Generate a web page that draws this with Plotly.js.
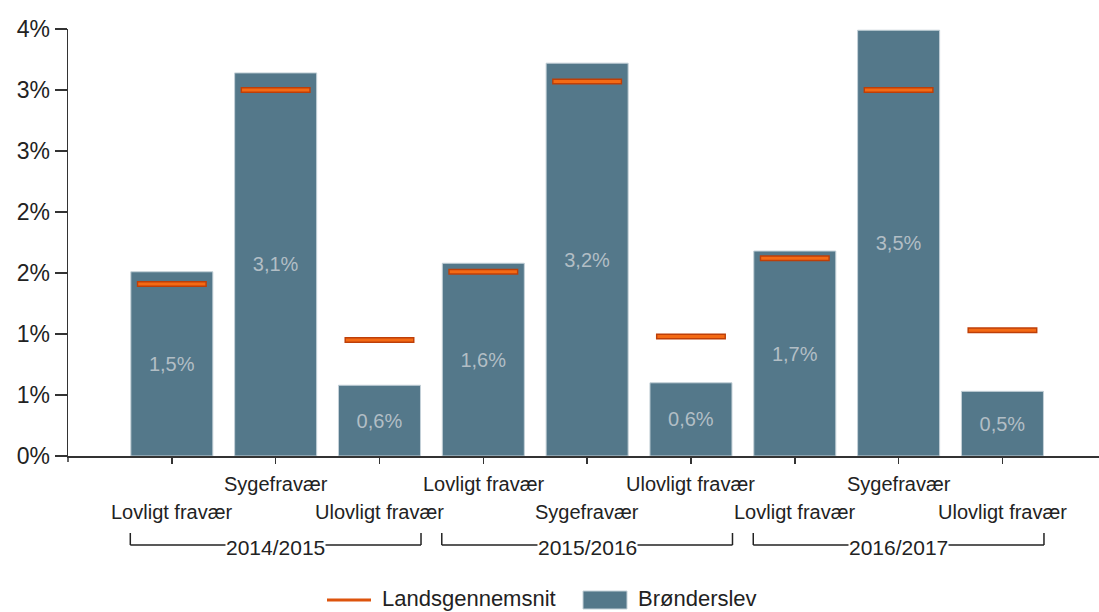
<!DOCTYPE html>
<html>
<head>
<meta charset="utf-8">
<script src="https://cdn.plot.ly/plotly-3.0.1.min.js"></script>
<style>html,body{margin:0;padding:0;background:#fff;}#chart{width:1099px;height:612px;}</style>
</head>
<body>
<div id="chart"></div>
<script>
// ---- data ----
const years = ["2014/2015", "2015/2016", "2016/2017"];
const categories = ["Lovligt fravær", "Sygefravær", "Ulovligt fravær"];
// Brønderslev values (%), in order year × category
const bronderslev = [1.51, 3.14, 0.58, 1.58, 3.22, 0.60, 1.68, 3.49, 0.53];
// Landsgennemsnit values (%)
const landsgennemsnit = [1.41, 3.00, 0.95, 1.51, 3.07, 0.98, 1.62, 3.00, 1.03];
const yTickVals = [0, 0.5, 1, 1.5, 2, 2.5, 3, 3.5];
const yTickText = ["0%", "1%", "1%", "2%", "2%", "3%", "3%", "4%"];
const seriesNames = ["Landsgennemsnit", "Brønderslev"];

// ---- build ----
const FONT = "Liberation Sans, Arial, sans-serif";
const xKeys = [], catLabels = [];
years.forEach(y => categories.forEach(c => { xKeys.push(y + " " + c); catLabels.push(c); }));
const barText = bronderslev.map(v => v.toFixed(1).replace(".", ",") + "%");

const barColor = "#54788A";
const orangeDark = "#BE3F08";
const orangeLight = "#F46A14";

const traces = [
  {
    type: "bar", x: xKeys, y: bronderslev, name: seriesNames[1],
    width: 0.79,
    marker: { color: barColor, line: { color: "#C4D1D8", width: 1 } },
    text: barText, textposition: "inside", insidetextanchor: "middle",
    textangle: 0, constraintext: "none",
    textfont: { family: FONT, size: 20, color: "#B2BEC5" },
    hoverinfo: "skip", showlegend: false
  },
  {
    type: "scatter", mode: "markers", x: xKeys, y: landsgennemsnit, name: seriesNames[0],
    marker: { symbol: "line-ew", size: 50, line: { color: orangeDark, width: 6 } },
    hoverinfo: "skip", showlegend: false
  },
  {
    type: "scatter", mode: "markers", x: xKeys, y: landsgennemsnit, name: seriesNames[0],
    marker: { symbol: "line-ew", size: 48, line: { color: orangeLight, width: 3 } },
    hoverinfo: "skip", showlegend: false
  }
];

const H = 427; // plot height px
const py = p => p / H; // px offset -> paper units
const annotations = [];
const shapes = [];

// category labels, staggered
xKeys.forEach((k, i) => {
  annotations.push({
    xref: "x", yref: "paper", x: k, y: (i % 2 === 1) ? -py(28) : -py(56),
    text: catLabels[i], showarrow: false, xanchor: "center", yanchor: "middle",
    font: { family: FONT, size: 20, color: "#222" }
  });
});

// group brackets and labels
years.forEach((y, g) => {
  const a = g * categories.length - 0.4;
  const b = g * categories.length + categories.length - 1 + 0.4;
  const yl = -py(89), yt = -py(77);
  shapes.push({ type: "line", xref: "x", yref: "paper", x0: a, x1: b, y0: yl, y1: yl, line: { color: "#222", width: 1.5 } });
  shapes.push({ type: "line", xref: "x", yref: "paper", x0: a, x1: a, y0: yt, y1: yl, line: { color: "#222", width: 1.5 } });
  shapes.push({ type: "line", xref: "x", yref: "paper", x0: b, x1: b, y0: yt, y1: yl, line: { color: "#222", width: 1.5 } });
  annotations.push({
    xref: "x", yref: "paper", x: g * categories.length + 1, y: -py(91),
    text: y, showarrow: false, xanchor: "center", yanchor: "middle",
    bgcolor: "#fff", borderpad: 0,
    font: { family: FONT, size: 21, color: "#222" }
  });
});

// tick below origin
shapes.push({ type: "line", xref: "paper", yref: "paper", x0: 0, x1: 0, y0: 0, y1: -py(6), line: { color: "#333", width: 1.5 } });

// manual legend
const W = 1031;
const px = p => (p - 68) / W;
const ly = -py(142);
shapes.push({ type: "line", xref: "paper", yref: "paper", x0: px(327), x1: px(371), y0: -py(144), y1: -py(144), line: { color: "#DD540D", width: 3 } });
annotations.push({ xref: "paper", yref: "paper", x: px(380), y: ly, text: seriesNames[0], showarrow: false, xanchor: "left", yanchor: "middle", font: { family: FONT, size: 22, color: "#222" } });
shapes.push({ type: "rect", xref: "paper", yref: "paper", x0: px(583), x1: px(627), y0: -py(135), y1: -py(153), fillcolor: barColor, line: { color: "#C4D1D8", width: 1 } });
annotations.push({ xref: "paper", yref: "paper", x: px(636), y: ly, text: seriesNames[1], showarrow: false, xanchor: "left", yanchor: "middle", font: { family: FONT, size: 22, color: "#222" } });

const layout = {
  width: 1099, height: 612,
  margin: { l: 68, r: 0, t: 29, b: 156, pad: 0 },
  paper_bgcolor: "#fff", plot_bgcolor: "#fff",
  showlegend: false,
  bargap: 0.21,
  xaxis: {
    type: "category", categoryorder: "array", categoryarray: xKeys,
    range: [-1, 8.93], showticklabels: false,
    ticks: "outside", ticklen: 6, tickwidth: 1.5, tickcolor: "#333",
    showline: true, linecolor: "#333", linewidth: 1.5,
    showgrid: false, zeroline: false, fixedrange: true
  },
  yaxis: {
    range: [0, 3.5], tickvals: yTickVals, ticktext: yTickText,
    ticks: "outside", ticklen: 12, tickwidth: 1.5, tickcolor: "#333",
    showline: true, linecolor: "#333", linewidth: 1.5,
    showgrid: false, zeroline: false, fixedrange: true,
    tickfont: { family: FONT, size: 23, color: "#222" }
  },
  shapes: shapes,
  annotations: annotations
};

Plotly.newPlot("chart", traces, layout, { staticPlot: true, displayModeBar: false });
</script>
</body>
</html>
